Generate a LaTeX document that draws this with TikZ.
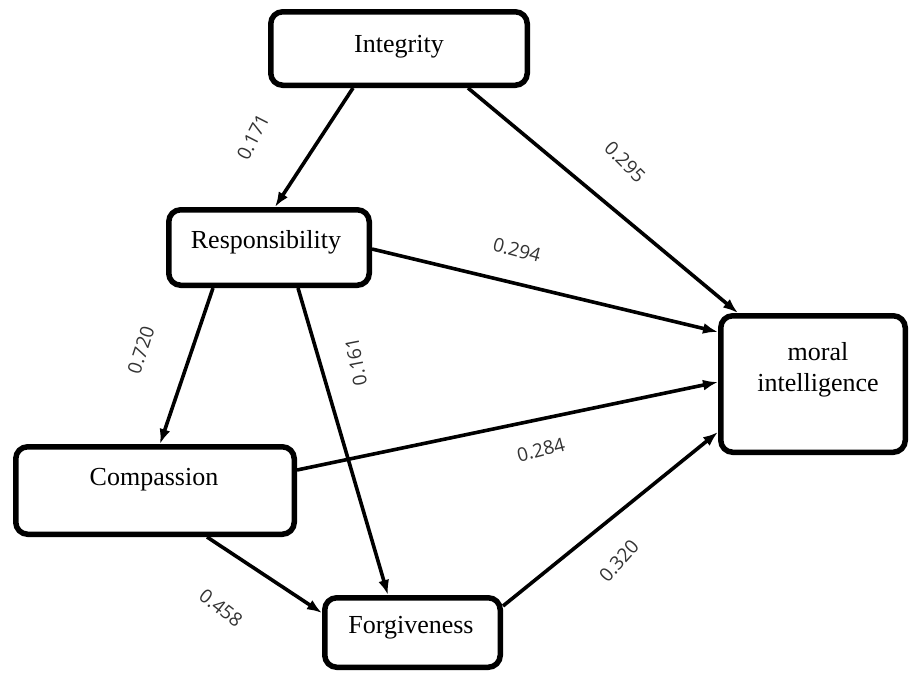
\documentclass[tikz,border=0pt]{standalone}
\usepackage{fontspec}
\setmainfont{Liberation Serif}
\newfontfamily\lblfont{Open Sans}
\usetikzlibrary{arrows.meta}
\begin{document}
\begin{tikzpicture}[x=1pt,y=-1pt,
  box/.style={draw=black, line width=5.5pt, rounded corners=12pt, inner sep=0pt, fill=white},
  txt/.style={font=\fontsize{26}{31}\selectfont, inner sep=0pt, align=center},
  lbl/.style={font=\lblfont\fontsize{19}{22}\selectfont, text=black!80, inner sep=0pt},
  arr/.style={line width=3.6pt, -{Latex[length=15pt,width=11pt]}}]
\fill[white] (0,0) rectangle (911,673);
\useasboundingbox (0,0) rectangle (911,673);
% boxes
\node[box, minimum width=256.5pt, minimum height=73.5pt] (int) at (399,48.5) {};
\node[box, minimum width=200.5pt, minimum height=75.5pt] (resp) at (269,247.5) {};
\node[box, minimum width=278.5pt, minimum height=87.5pt] (comp) at (155,490.5) {};
\node[box, minimum width=175.5pt, minimum height=69.5pt] (forg) at (412.5,632.5) {};
\node[box, minimum width=184.5pt, minimum height=136.5pt] (moral) at (813,384) {};
% texts
\node[txt] (tint) at (399,47) {Integrity};
\node[txt] (tresp) at (266,242) {Responsibility};
\node[txt] (tcomp) at (154,480) {Compassion};
\node[txt] (tforg) at (411,628) {Forgiveness};
\node[txt] (tmoral) at (818,370) {moral\\intelligence};
% connectors
\draw[arr] ([xshift=-46pt]int.south) -- ([xshift=6pt]resp.north);
\draw[arr] ([xshift=69pt]int.south) -- ([xshift=20pt]moral.north west);
\draw[arr] ([yshift=-1.5pt]resp.east) -- ([yshift=52pt]moral.west);
\draw[arr] ([xshift=-56pt]resp.south) -- ([xshift=5pt]comp.north);
\draw[arr] ([xshift=29pt]resp.south) -- ([xshift=-24.5pt]forg.north);
\draw[arr] ([yshift=20.5pt]comp.east) -- ([yshift=2pt]moral.west);
\draw[arr] ([xshift=52pt]comp.south) -- ([yshift=19.5pt]forg.west);
\draw[arr] ([yshift=26.5pt]forg.east) -- ([yshift=-48pt]moral.west);
% labels
\node[lbl, rotate=63] (l171) at (253,137) {0.171};
\node[lbl, rotate=-45] (l295) at (625,162) {0.295};
\node[lbl, rotate=-15] (l294) at (517,250) {0.294};
\node[lbl, rotate=72] (l720) at (141,350) {0.720};
\node[lbl, rotate=101] (l161) at (356,362) {0.161};
\node[lbl, rotate=14.5] (l284) at (541,450) {0.284};
\node[lbl, rotate=-38] (l458) at (221,608) {0.458};
\node[lbl, rotate=48] (l320) at (619,561) {0.320};
\end{tikzpicture}
\end{document}
